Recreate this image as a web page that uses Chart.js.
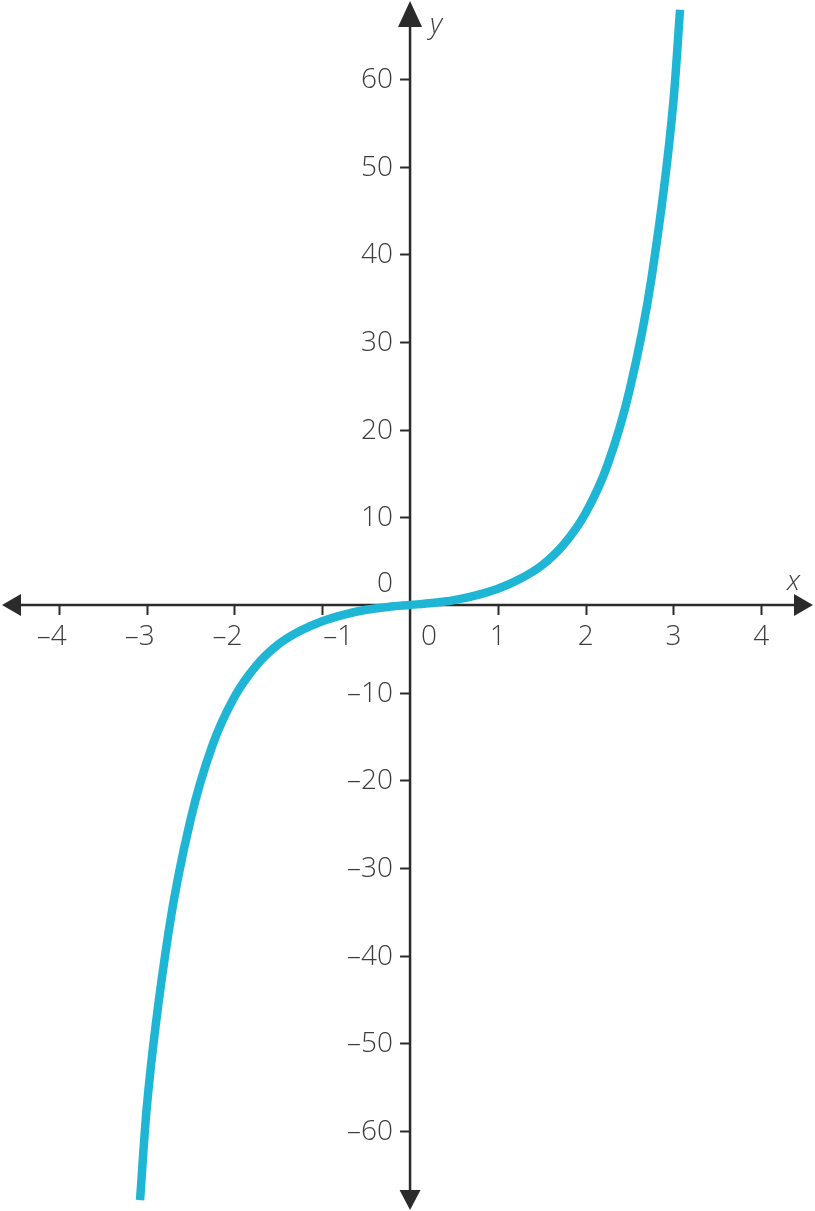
<!DOCTYPE html>
<html>
<head>
<meta charset="utf-8">
<script src="https://cdn.jsdelivr.net/npm/chart.js@4.4.1/dist/chart.umd.min.js"></script>
<style>
  html, body { margin: 0; padding: 0; background: #ffffff; }
  #wrap { width: 815px; height: 1211px; }
  canvas { display: block; }
</style>
</head>
<body>
<div id="wrap"><canvas id="c" width="815" height="1211"></canvas></div>
<script>
// Curve samples
const curveX = [-3.075, -3.0, -2.75, -2.5, -2.25, -2.0, -1.75, -1.5, -1.25, -1.0, -0.75, -0.5, -0.25, 0,
                0.25, 0.5, 0.75, 1.0, 1.25, 1.5, 1.75, 2.0, 2.25, 2.5, 2.75, 3.0, 3.075];
const curveY = [-67.9, -57.5, -37.3, -24.5, -16.0, -10.5, -6.9, -4.5, -2.95, -1.85, -1.1, -0.55, -0.22, 0,
                0.22, 0.55, 1.1, 1.85, 2.95, 4.5, 6.9, 10.5, 16.0, 24.5, 37.3, 57.5, 67.9];

// Axis ticks and labels
const xTickValues = [-4, -3, -2, -1, 1, 2, 3, 4];
const xTickLabels = ['–4', '–3', '–2', '–1', '1', '2', '3', '4'];
const yTickValues = [60, 50, 40, 30, 20, 10, -10, -20, -30, -40, -50, -60];
const yTickLabels = ['60', '50', '40', '30', '20', '10', '–10', '–20', '–30', '–40', '–50', '–60'];
const zeroLabel = '0';
const xAxisTitle = 'x';
const yAxisTitle = 'y';

const AXIS_COLOR = '#2b2b2b';
const TEXT_COLOR = '#3d3d3d';
const CURVE_COLOR = '#1eb6d4';
const FONT = '300 28px "Open Sans", "Noto Sans", sans-serif';
const FONT_IT = 'italic 300 28px "Open Sans", "Noto Sans", sans-serif';

const axesPlugin = {
  id: 'cartesianAxes',
  beforeDatasetsDraw(chart) {
    const ctx = chart.ctx;
    const xs = chart.scales.x, ys = chart.scales.y;
    const W = chart.width, H = chart.height;
    const ox = xs.getPixelForValue(0);
    const oy = ys.getPixelForValue(0);
    ctx.save();
    ctx.strokeStyle = AXIS_COLOR;
    ctx.fillStyle = AXIS_COLOR;
    ctx.lineWidth = 2.5;
    // x axis
    ctx.beginPath();
    ctx.moveTo(10, oy); ctx.lineTo(W - 10, oy);
    ctx.stroke();
    // y axis
    ctx.beginPath();
    ctx.moveTo(ox, 10); ctx.lineTo(ox, H - 10);
    ctx.stroke();
    // arrowheads
    ctx.beginPath(); // left
    ctx.moveTo(2, oy); ctx.lineTo(21, oy - 11); ctx.lineTo(21, oy + 11); ctx.closePath(); ctx.fill();
    ctx.beginPath(); // right
    ctx.moveTo(W - 2, oy); ctx.lineTo(W - 21, oy - 11); ctx.lineTo(W - 21, oy + 11); ctx.closePath(); ctx.fill();
    ctx.beginPath(); // top
    ctx.moveTo(ox, 1); ctx.lineTo(ox - 12, 27); ctx.lineTo(ox + 12, 27); ctx.closePath(); ctx.fill();
    ctx.beginPath(); // bottom
    ctx.moveTo(ox, H - 1); ctx.lineTo(ox - 10.5, H - 21); ctx.lineTo(ox + 10.5, H - 21); ctx.closePath(); ctx.fill();

    // ticks
    ctx.lineWidth = 2;
    xTickValues.forEach(v => {
      const px = Math.round(xs.getPixelForValue(v)) + 0.5;
      ctx.beginPath(); ctx.moveTo(px, oy); ctx.lineTo(px, oy + 10); ctx.stroke();
    });
    yTickValues.forEach(v => {
      const py = Math.round(ys.getPixelForValue(v)) + 0.5;
      ctx.beginPath(); ctx.moveTo(ox - 10, py); ctx.lineTo(ox, py); ctx.stroke();
    });

    // labels
    ctx.fillStyle = TEXT_COLOR;
    ctx.font = FONT;
    ctx.textBaseline = 'middle';
    // x labels: digit centred under tick, dash hangs to the left
    ctx.textAlign = 'left';
    xTickValues.forEach((v, i) => {
      const px = xs.getPixelForValue(v);
      const lab = xTickLabels[i];
      const digits = lab.replace('–', '');
      const dw = ctx.measureText(digits).width;
      const fw = ctx.measureText(lab).width;
      let left = px + dw / 2 - fw;
      if (v === -1) left = px + 1;
      ctx.fillText(lab, left, oy + 32);
    });
    // y labels right aligned left of the axis
    ctx.textAlign = 'right';
    yTickValues.forEach((v, i) => {
      ctx.fillText(yTickLabels[i], ox - 17, ys.getPixelForValue(v) + 1);
    });
    // zero labels
    ctx.fillText(zeroLabel, ox - 17, oy - 21);
    ctx.textAlign = 'center';
    ctx.fillText(zeroLabel, ox + 19, oy + 32);
    // axis titles
    ctx.font = FONT_IT;
    ctx.textAlign = 'left';
    ctx.textBaseline = 'alphabetic';
    ctx.fillText(yAxisTitle, ox + 20, 33);
    ctx.fillText(xAxisTitle, W - 28, oy - 15);
    ctx.restore();
  }
};

new Chart(document.getElementById('c'), {
  type: 'line',
  data: {
    datasets: [{
      data: curveX.map((x, i) => ({ x: x, y: curveY[i] })),
      borderColor: CURVE_COLOR,
      borderWidth: 8.5,
      borderCapStyle: 'butt',
      pointRadius: 0,
      fill: false,
      cubicInterpolationMode: 'monotone'
    }]
  },
  options: {
    responsive: false,
    animation: false,
    devicePixelRatio: 1,
    layout: { padding: 0 },
    plugins: { legend: { display: false }, tooltip: { enabled: false } },
    scales: {
      x: { type: 'linear', min: -4.67, max: 4.612, display: false },
      y: { type: 'linear', min: -69.14, max: 69.02, display: false }
    }
  },
  plugins: [axesPlugin]
});
</script>
</body>
</html>
